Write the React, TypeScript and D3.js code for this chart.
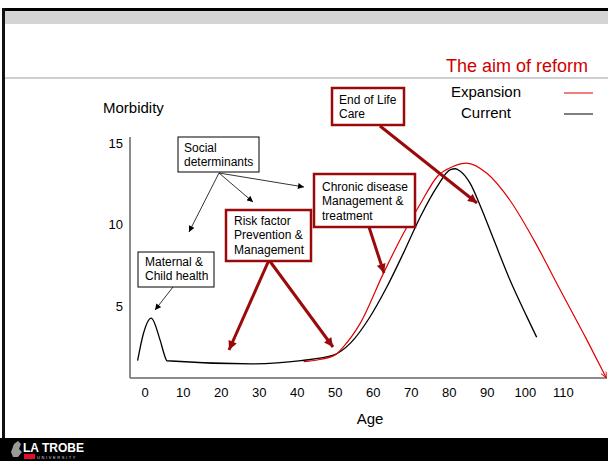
import { useEffect, useRef } from 'react'
import * as d3 from 'd3'

// Current (black) curve
const currentAge = [-2, -0.5, 1.6, 3.9, 5.3, 5.7, 28, 41, 49.5, 54, 59, 63.6, 68, 72.4, 76.8, 80.3, 81.6, 82.9, 85.5, 88.2, 91.7, 96, 100.4, 103]
const currentVal = [1.66, 3.3, 4.28, 2.94, 1.85, 1.66, 1.47, 1.67, 2.0, 2.74, 4.3, 6.2, 8.3, 10.5, 12.35, 13.4, 13.45, 13.3, 12.55, 11.15, 9.1, 6.6, 4.37, 3.1]

// Expansion (red) curve
const expansionAge = [41.7, 45.6, 50, 52.2, 56.6, 62.7, 68, 72.4, 76.8, 81.1, 84.6, 89.9, 96, 102.2, 109.2, 116.2, 121.3]
const expansionVal = [1.61, 1.72, 2.02, 2.53, 3.97, 7.04, 9.5, 11.3, 12.96, 13.6, 13.8, 13.17, 11.5, 9.1, 6.0, 2.94, 0.62]

const xTicks = [0, 10, 20, 30, 40, 50, 60, 70, 80, 90, 100, 110]
const yTicks = [5, 10, 15]

const legendLabels = ['Expansion', 'Current']

const FONT = '"Liberation Sans", Arial, sans-serif'
const DARK_RED = '#9b0a0a'

export default function App() {
  const svgRef = useRef<SVGSVGElement>(null)

  useEffect(() => {
    if (!svgRef.current) return
    const svg = d3.select(svgRef.current)
    svg.selectAll('*').remove()

    const W = 608
    const H = 461

    const defs = svg.append('defs')
    defs.append('marker')
      .attr('id', 'thinHead')
      .attr('markerUnits', 'userSpaceOnUse')
      .attr('viewBox', '0 0 10 10')
      .attr('refX', 10).attr('refY', 5)
      .attr('markerWidth', 7).attr('markerHeight', 6)
      .attr('orient', 'auto')
      .append('path').attr('d', 'M0,0 L10,5 L0,10 Z').attr('fill', '#000')
    defs.append('marker')
      .attr('id', 'redHead')
      .attr('markerUnits', 'userSpaceOnUse')
      .attr('viewBox', '0 0 10 10')
      .attr('refX', 10).attr('refY', 5)
      .attr('markerWidth', 11).attr('markerHeight', 9)
      .attr('orient', 'auto')
      .append('path').attr('d', 'M0,0 L10,5 L0,10 Z').attr('fill', DARK_RED)
    defs.append('marker')
      .attr('id', 'openRed')
      .attr('markerUnits', 'userSpaceOnUse')
      .attr('viewBox', '0 0 10 10')
      .attr('refX', 10).attr('refY', 5)
      .attr('markerWidth', 7).attr('markerHeight', 6)
      .attr('orient', 'auto')
      .append('path').attr('d', 'M0,0 L10,5 L0,10').attr('fill', 'none').attr('stroke', '#e00000').attr('stroke-width', 1.5)

    // slide frame
    svg.append('rect').attr('width', W).attr('height', H).attr('fill', '#fff')
    svg.append('rect').attr('x', 2).attr('y', 8).attr('width', W - 2).attr('height', 3).attr('fill', '#000')
    svg.append('rect').attr('x', 2).attr('y', 8).attr('width', 3).attr('height', 430).attr('fill', '#111')
    svg.append('rect').attr('x', 5).attr('y', 11).attr('width', W - 5).attr('height', 13).attr('fill', '#d4d4d4')
    svg.append('line').attr('x1', 5).attr('x2', W).attr('y1', 78).attr('y2', 78).attr('stroke', '#a0a0a0').attr('stroke-width', 1)
    svg.append('rect').attr('x', 0).attr('y', 438).attr('width', W).attr('height', H - 438).attr('fill', '#000')

    // logo
    const logo = svg.append('g')
    logo.append('path')
      .attr('d', 'M11,452 L14,444 L18,441 L21,444 L19,449 L22,452 L18,457 L13,457 Z')
      .attr('fill', '#9a9a9a')
    logo.append('text').attr('x', 23).attr('y', 452)
      .style('font-family', FONT).style('font-weight', 'bold').style('font-size', '12px')
      .attr('fill', '#fff').text('LA TROBE')
    logo.append('rect').attr('x', 24).attr('y', 454).attr('width', 11).attr('height', 5).attr('fill', '#e0102a')
    logo.append('text').attr('x', 37).attr('y', 459)
      .style('font-family', FONT).style('font-size', '4px').style('letter-spacing', '1.6px')
      .attr('fill', '#ddd').text('UNIVERSITY')

    // title
    svg.append('text').attr('x', 588).attr('y', 72)
      .attr('text-anchor', 'end')
      .style('font-family', FONT).style('font-size', '18px')
      .attr('fill', '#d00000').text('The aim of reform')

    // scales
    const x = d3.scaleLinear().domain([-4, 121.5]).range([130, 607])
    const y = d3.scaleLinear().domain([0.6, 15.4]).range([378, 137])

    // axes
    svg.append('line').attr('x1', x(-4)).attr('x2', x(-4)).attr('y1', y(15.4)).attr('y2', y(0.6))
      .attr('stroke', '#666').attr('stroke-width', 1.5)
    svg.append('line').attr('x1', x(-4)).attr('x2', x(121.5)).attr('y1', y(0.6)).attr('y2', y(0.6))
      .attr('stroke', '#666').attr('stroke-width', 1.5)

    svg.append('g').selectAll('text').data(xTicks).join('text')
      .attr('x', d => x(d)).attr('y', 397)
      .attr('text-anchor', 'middle')
      .style('font-family', FONT).style('font-size', '13px')
      .attr('fill', '#000').text(d => d)
    svg.append('g').selectAll('text').data(yTicks).join('text')
      .attr('x', 123).attr('y', d => y(d) + 4.5)
      .attr('text-anchor', 'end')
      .style('font-family', FONT).style('font-size', '13px')
      .attr('fill', '#000').text(d => d)

    svg.append('text').attr('x', 370).attr('y', 424).attr('text-anchor', 'middle')
      .style('font-family', FONT).style('font-size', '15px').text('Age')
    svg.append('text').attr('x', 103).attr('y', 113)
      .style('font-family', FONT).style('font-size', '15px').text('Morbidity')

    // legend
    const legendColors = ['#e00000', '#000']
    legendLabels.forEach((lab, i) => {
      const ly = 92 + i * 21
      svg.append('text').attr('x', 486).attr('y', ly + 5).attr('text-anchor', 'middle')
        .style('font-family', FONT).style('font-size', '15px').text(lab)
      svg.append('line').attr('x1', 564).attr('x2', 593).attr('y1', ly + 1).attr('y2', ly + 1)
        .attr('stroke', legendColors[i]).attr('stroke-width', 1)
    })

    // curves
    const line = d3.line<[number, number]>()
      .x(d => x(d[0])).y(d => y(d[1]))
      .curve(d3.curveMonotoneX)
    svg.append('path')
      .datum(currentAge.map((a, i) => [a, currentVal[i]] as [number, number]))
      .attr('d', line).attr('fill', 'none').attr('stroke', '#000').attr('stroke-width', 1.3)
    svg.append('path')
      .datum(expansionAge.map((a, i) => [a, expansionVal[i]] as [number, number]))
      .attr('d', line).attr('fill', 'none').attr('stroke', '#e00000').attr('stroke-width', 1.2)
      .attr('marker-end', 'url(#openRed)')

    // annotation boxes
    const box = (x0: number, y0: number, w: number, h: number, lines: string[], tx: number, ty: number, red: boolean) => {
      svg.append('rect').attr('x', x0).attr('y', y0).attr('width', w).attr('height', h)
        .attr('fill', '#fff').attr('stroke', red ? DARK_RED : '#000').attr('stroke-width', red ? 2.5 : 1)
      lines.forEach((t, i) => {
        svg.append('text').attr('x', tx).attr('y', ty + i * 14.3)
          .style('font-family', FONT).style('font-size', '12px').attr('fill', '#000').text(t)
      })
    }

    // thin black arrows
    const thin = (x1: number, y1: number, x2: number, y2: number) => {
      svg.append('line').attr('x1', x1).attr('y1', y1).attr('x2', x2).attr('y2', y2)
        .attr('stroke', '#000').attr('stroke-width', 0.8).attr('marker-end', 'url(#thinHead)')
    }
    const thick = (x1: number, y1: number, x2: number, y2: number) => {
      svg.append('line').attr('x1', x1).attr('y1', y1).attr('x2', x2).attr('y2', y2)
        .attr('stroke', DARK_RED).attr('stroke-width', 3).attr('marker-end', 'url(#redHead)')
    }

    thin(219, 173, 189, 232)
    thin(219, 173, 253, 202)
    thin(219, 173, 304, 187)
    thin(173, 287, 155, 310)

    thick(269, 260, 229, 350)
    thick(269, 260, 333, 347)
    thick(369, 227, 384, 273)
    thick(380, 126, 477, 203)

    box(178, 137, 81, 35, ['Social', 'determinants'], 184, 152, false)
    box(138, 252, 76, 35, ['Maternal &', 'Child health'], 145, 266, false)
    box(226, 210, 85, 51, ['Risk factor', 'Prevention &', 'Management'], 234, 225, true)
    box(314, 174, 101, 53, ['Chronic disease', 'Management &', 'treatment'], 322, 191, true)
    box(332, 88, 72, 37, ['End of Life', 'Care'], 339, 104, true)
  }, [])

  return (
    <svg ref={svgRef} width={608} height={461}
      style={{ position: 'absolute', left: 0, top: 0, display: 'block' }} />
  )
}
